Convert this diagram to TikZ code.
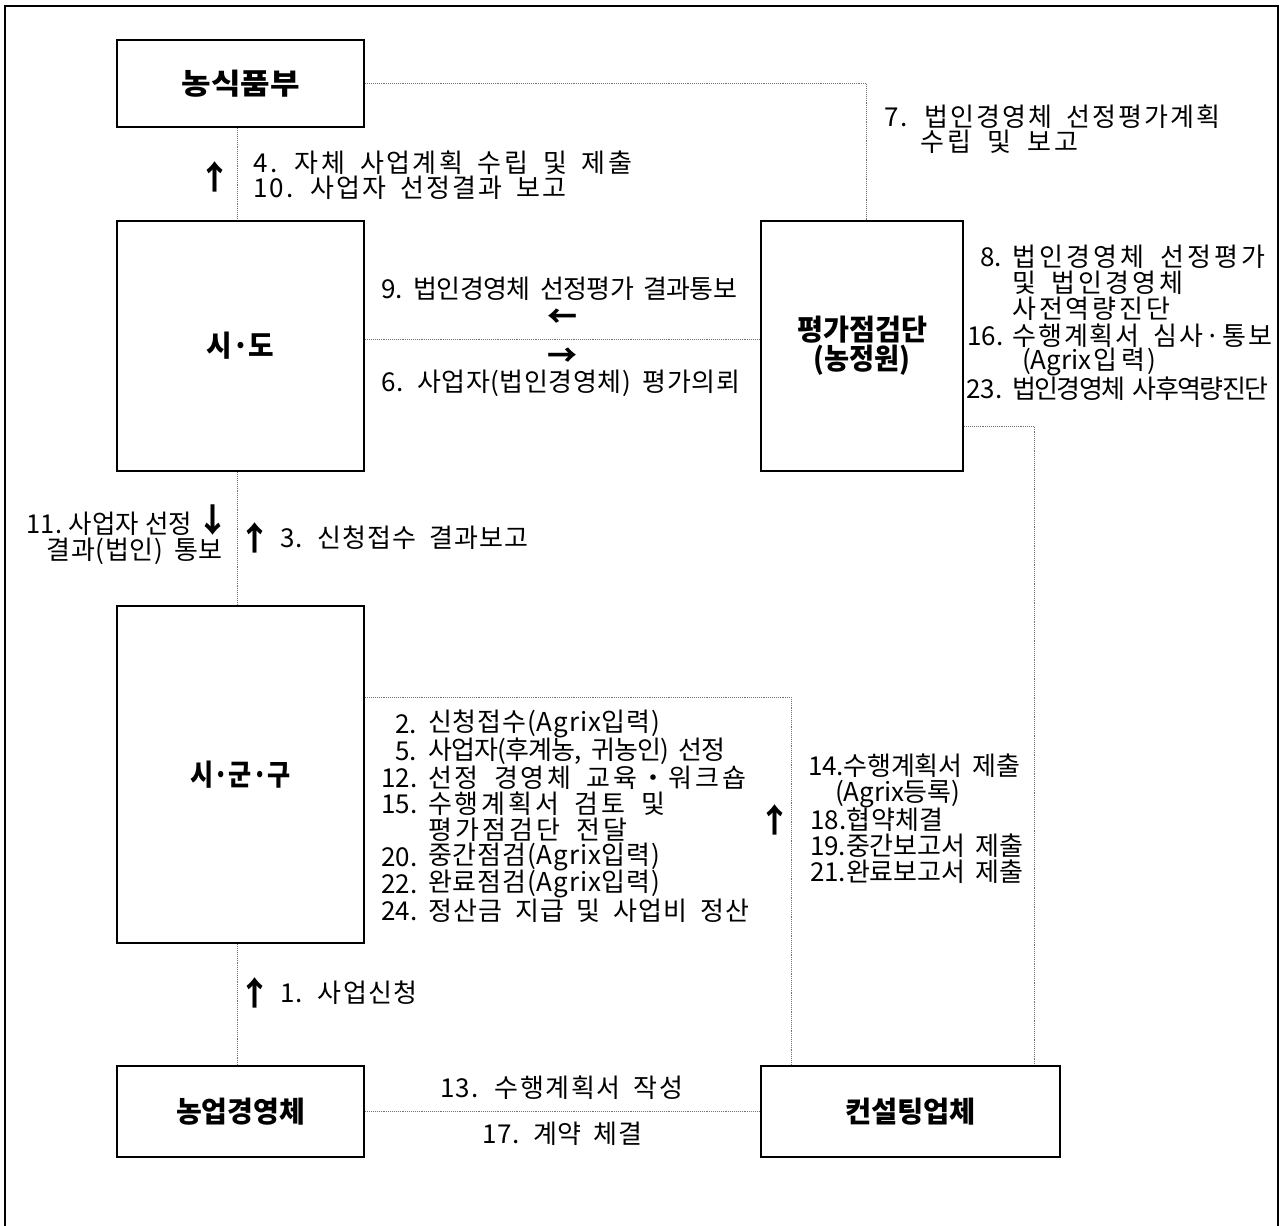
\documentclass[tikz,border=0pt]{standalone}
\usepackage{fontspec}
\usepackage{graphicx}
\setmainfont{Noto Sans CJK KR}[WordSpace=1.8]
\usetikzlibrary{calc}
\newlength\lsA
\newlength\lsB
% letter-spaced text fitted to a target width (pt)
\newcommand\fitls[2]{%
  \settowidth\lsA{#2}%
  \settowidth\lsB{\addfontfeatures{LetterSpace=10}#2}%
  \pgfmathsetmacro\lsd{max(\lsB-\lsA,0.01)}%
  \pgfmathsetmacro\lsval{10*(#1-\lsA)/\lsd}%
  {\addfontfeatures{LetterSpace=\lsval}#2}}
% horizontally scaled text fitted to a target width (pt)
\newcommand\fitsc[2]{%
  \settowidth\lsA{#2}%
  \pgfmathsetmacro\scval{#1/max(\lsA,0.01)}%
  \scalebox{\scval}[1]{#2}}
\begin{document}
\begin{tikzpicture}[x=1pt,y=-1pt,
  box/.style={draw, line width=2.8pt, inner sep=0pt, align=center,
    font=\fontsize{29}{30}\selectfont\bfseries},
  conn/.style={draw=black!55, densely dotted, line width=0.9pt},
  lbl/.style={inner sep=0pt, anchor=west, font=\fontsize{26}{27}\selectfont},
  varr/.style={inner sep=0pt, text height=25pt, text depth=0pt,
    font=\fontsize{33}{34}\selectfont\bfseries},
  harr/.style={inner sep=0pt, text height=22.8pt, text depth=0pt,
    font=\fontsize{30}{31}\selectfont\bfseries}]
\useasboundingbox (0,0) rectangle (1283,1226);
\draw[line width=1.3pt] (5,1226) -- (5,6) -- (1278,6) -- (1278,1226);

% boxes
\node[box, minimum width=247pt, minimum height=87pt] (nong) at (240.5,83.5) {\fitsc{118}{농식품부}};
\node[box, minimum width=247pt, minimum height=250pt] (sido) at (240.5,346) {\fitsc{68}{시·도}};
\node[box, minimum width=202pt, minimum height=250pt, font=\fontsize{29}{29}\selectfont\bfseries] (eval) at (862,346) {\fitsc{130}{평가점검단}\\\fitsc{97}{(농정원)}};
\node[box, minimum width=247pt, minimum height=337pt] (sgg) at (240.5,774.5) {\fitsc{100}{시·군·구}};
\node[box, minimum width=247pt, minimum height=91pt] (farm) at (240.5,1111.5) {\fitsc{129}{농업경영체}};
\node[box, minimum width=299pt, minimum height=91pt] (cons) at (910.5,1111.5) {\fitsc{131}{컨설팅업체}};

% connectors
\draw[conn] ($(nong.south)+(-3.5,0)$) -- ($(sido.north)+(-3.5,0)$);
\draw[conn] (nong.east) -| ($(eval.north)+(4,0)$);
\draw[conn] ($(sido.east)+(0,-7)$) -- ($(eval.west)+(0,-7)$);
\draw[conn] ($(eval.east)+(0,80)$) -| ($(cons.north)+(123.5,0)$);
\draw[conn] ($(sido.south)+(-3.5,0)$) -- ($(sgg.north)+(-3.5,0)$);
\draw[conn] ($(sgg.east)+(0,-77.5)$) -| ($(cons.north)+(-119.5,0)$);
\draw[conn] ($(sgg.south)+(-3.5,0)$) -- ($(farm.north)+(-3.5,0)$);
\draw[conn] (farm.east) -- (cons.west);

% top-left labels
\node[varr] (a1) at (215,177) {↑};
\node[lbl] (t4) at (253,163) {\fitls{379}{4. 자체 사업계획 수립 및 제출}};
\node[lbl] (t10) at (253,188) {\fitls{313}{10. 사업자 선정결과 보고}};
% top-right
\node[lbl] (t7) at (884,117) {\fitls{336}{7. 법인경영체 선정평가계획}};
\node[lbl] (t7b) at (920,142) {\fitls{158}{수립 및 보고}};
% middle
\node[lbl] (t9) at (381,289) {\fitls{356}{9. 법인경영체 선정평가 결과통보}};
\node[harr] (a9) at (562,316) {←};
\node[harr] (a6) at (562,355) {→};
\node[lbl] (t6) at (381,383) {\fitls{359}{6. 사업자(법인경영체) 평가의뢰}};
% right of eval
\node[lbl] (n8) at (980,257) {8.};
\node[lbl] (t8) at (1012,257) {\fitls{253}{법인경영체 선정평가}};
\node[lbl] (t8b) at (1012,283) {\fitls{171}{및 법인경영체}};
\node[lbl] (t8c) at (1012,309) {\fitls{158}{사전역량진단}};
\node[lbl] (n16) at (967,336) {16.};
\node[lbl] (t16) at (1012,336) {\fitls{260}{수행계획서 심사·통보}};
\node[lbl] (t16b) at (1022,362) {(Agrix\hspace{2pt}입\hspace{4pt}력\hspace{2pt})};
\node[lbl] (n23) at (966,389) {23.};
\node[lbl] (t23) at (1012,389) {\fitls{256}{법인경영체 사후역량진단}};
% between sido and sgg
\node[lbl, anchor=east] (t11) at (192,524) {\fitsc{165}{11.\hspace{7pt}사업자\hspace{6pt}선정}};
\node[varr] (a11) at (213,520) {↓};
\node[lbl, anchor=east] (t11b) at (223,551) {\fitls{176}{결과(법인) 통보}};
\node[varr] (a3) at (255,538) {↑};
\node[lbl] (t3) at (280,538) {\fitls{248}{3. 신청접수 결과보고}};
% sgg labels
\node[lbl] (n2) at (395,724) {2.};
\node[lbl] (t2) at (428,724) {\fitls{232}{신청접수(Agrix입력)}};
\node[lbl] (n5) at (395,751) {5.};
\node[lbl] (t5) at (428,751) {\fitls{297}{사업자(후계농, 귀농인) 선정}};
\node[lbl] (n12) at (381,778) {12.};
\node[lbl] (t12) at (428,778) {\fitls{318}{선정 경영체 교육・워크숍}};
\node[lbl] (n15) at (381,804) {15.};
\node[lbl] (t15) at (428,804) {\fitls{237}{수행계획서 검토 및}};
\node[lbl] (t15b) at (428,830) {\fitls{199}{평가점검단 전달}};
\node[lbl] (n20) at (381,857) {20.};
\node[lbl] (t20) at (428,857) {\fitls{232}{중간점검(Agrix입력)}};
\node[lbl] (n22) at (381,884) {22.};
\node[lbl] (t22) at (428,884) {\fitls{232}{완료점검(Agrix입력)}};
\node[lbl] (n24) at (381,911) {24.};
\node[lbl] (t24) at (428,911) {\fitls{321}{정산금 지급 및 사업비 정산}};
% consulting labels
\node[varr] (a14) at (775,820) {↑};
\node[lbl] (t14) at (808,766) {\fitls{212}{14.수행계획서 제출}};
\node[lbl] (t14b) at (835,794) {\fitls{125}{(Agrix등록)}};
\node[lbl] (t18) at (810,820) {\fitls{133}{18.협약체결}};
\node[lbl] (t19) at (810,846) {\fitls{213}{19.중간보고서 제출}};
\node[lbl] (t21) at (810,872) {\fitls{213}{21.완료보고서 제출}};
% bottom
\node[varr] (a1b) at (255,993) {↑};
\node[lbl] (t1) at (280,993) {\fitls{137}{1. 사업신청}};
\node[lbl, anchor=center] (t13) at (561.5,1088) {\fitls{243}{13. 수행계획서 작성}};
\node[lbl, anchor=center] (t17) at (562,1134) {\fitls{160}{17. 계약 체결}};
\end{tikzpicture}
\end{document}
